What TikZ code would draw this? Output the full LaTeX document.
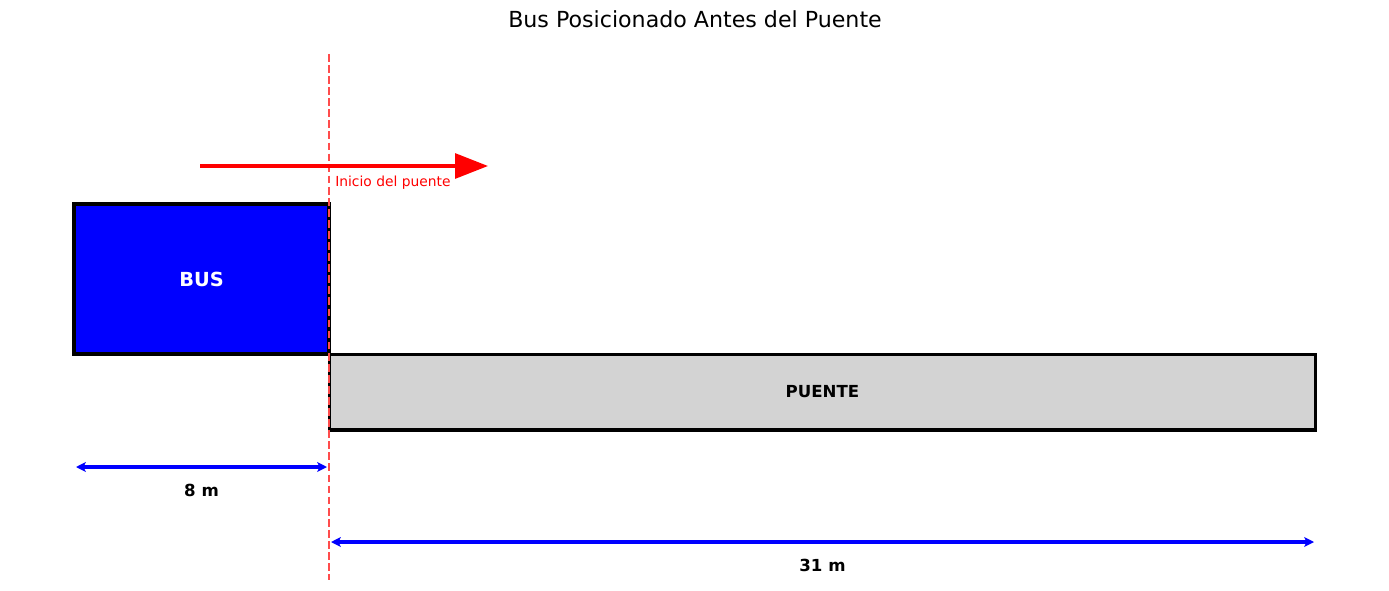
\documentclass[tikz,border=0pt]{standalone}
\usepackage{fontspec}
\setmainfont{DejaVu Sans}
\usetikzlibrary{arrows.meta,calc}

\begin{document}
\begin{tikzpicture}[x=0.0254cm,y=-0.0254cm]

\tikzset{bus/.style = {draw=black,line width=2.2pt,fill=blue,text=white,font=\fontsize{14}{16}\selectfont\bfseries,inner sep=0pt}}
\tikzset{bridge/.style = {draw=black,line width=2.2pt,fill={rgb,255:red,211;green,211;blue,211},font=\fontsize{12}{14}\selectfont\bfseries,inner sep=0pt}}
\tikzset{dim/.style = {{Stealth[length=7pt,width=7pt,inset=1.5pt]}-{Stealth[length=7pt,width=7pt,inset=1.5pt]},blue,line width=2.2pt}}
\tikzset{dimlabel/.style = {font=\fontsize{12}{14}\selectfont\bfseries}}
\useasboundingbox (0,0) rectangle (1389,590);

\node[font=\fontsize{16}{19}\selectfont,anchor=base] (title) at (695,27.5) {Bus Posicionado Antes del Puente};

\node[bus,minimum width=184.3pt,minimum height=108.4pt] (bus) at (201.5,279) {BUS};
\node[bridge,minimum width=713.3pt,minimum height=54.9pt] (puente) at (822.5,392) {PUENTE};

% start of the bridge
\coordinate (top) at (329,54);
\coordinate (bottom) at (329,580);
\draw[red!70,line width=1.6pt,dash pattern=on 5.6pt off 2.4pt] (top) -- (bottom);

% direction of travel
\coordinate (mv0) at (200,166);
\coordinate (mv1) at (488,166);
\draw[red,line width=2.3pt,-{Triangle[length=23.8pt,width=18pt]}] (mv0) -- (mv1);
\node[red,font=\fontsize{10}{12}\selectfont,anchor=base west,inner sep=0pt] (inicio) at (335,186.5) {Inicio del puente};

\foreach \name/\xa/\xb/\y/\len in {b/76/327/467/8 m, p/331/1314/542/31 m}{
\coordinate (\name0) at (\xa,\y);
\coordinate (\name1) at (\xb,\y);
\draw[dim] (\name0) -- (\name1);
\node[dimlabel] (\name lab) at ($(\name0)!0.5!(\name1)+(0,23.5)$) {\len};
}

\end{tikzpicture}
\end{document}
